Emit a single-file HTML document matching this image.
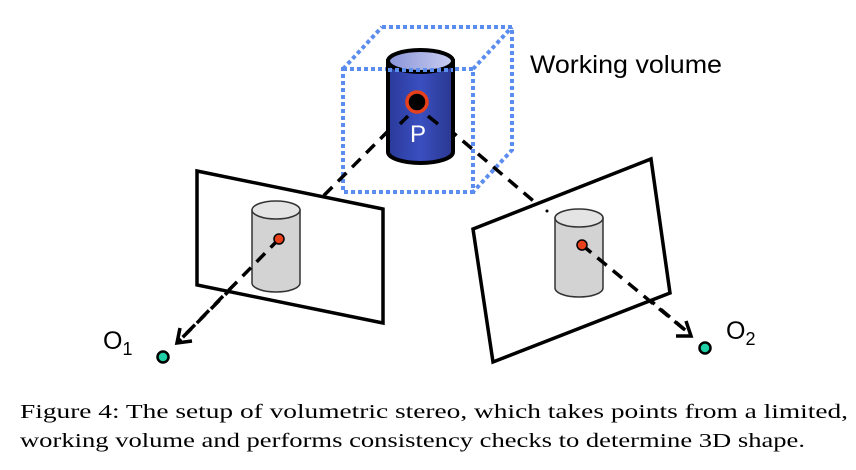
<!DOCTYPE html>
<html><head><style>html,body{margin:0;padding:0;background:#fff}svg{display:block}</style></head>
<body>
<svg width="856" height="470" viewBox="0 0 856 470" xmlns="http://www.w3.org/2000/svg">
<defs>
<linearGradient id="bl" x1="0" x2="1" y1="0" y2="0">
<stop offset="0" stop-color="#2a3a9a"/><stop offset="0.5" stop-color="#3a4fc0"/><stop offset="1" stop-color="#2a3790"/>
</linearGradient>
<linearGradient id="bt" x1="0" x2="1"><stop offset="0" stop-color="#8a94d8"/><stop offset="1" stop-color="#c8cdf0"/></linearGradient>
</defs>
<g stroke="#5b8def" stroke-width="4" stroke-dasharray="4 3" fill="none">
<path d="M382,27 L512,27 L512,150 L473,192"/>
<path d="M343,69 L382,27"/>
<path d="M473,69 L512,27"/>
<rect x="343" y="69" width="130" height="123"/>
</g>
<!-- full rays (occluded later) -->
<g stroke="#000" stroke-width="3.5" stroke-dasharray="12 8" fill="none">
<path d="M417,102 L178,342"/>
<path d="M417,102 L691,335"/>
</g>
<!-- cylinder P -->
<path d="M388,61 L388,152 A32.5,11 0 0 0 453,152 L453,61 Z" fill="url(#bl)" stroke="#000" stroke-width="4"/>
<ellipse cx="420.5" cy="61" rx="32.5" ry="11" fill="url(#bt)" stroke="#000" stroke-width="4"/>
<path d="M388,70 L453,70" stroke="#5b8def" stroke-width="4" stroke-dasharray="4 3"/>
<circle cx="417" cy="102" r="10" fill="#000" stroke="#e8401a" stroke-width="3.5"/>
<path d="M408,116 L400,124 M428,116 L438,124" stroke="#000" stroke-width="3.5"/>
<text x="418" y="142" font-family="Liberation Sans, sans-serif" font-size="24" fill="#fff" text-anchor="middle">P</text>
<!-- planes -->
<polygon points="197,171 383,209 383,323 197,285" fill="#fff" stroke="#000" stroke-width="3.5"/>
<polygon points="473,229 651,159 670,293 493,362" fill="#fff" stroke="#000" stroke-width="3.5"/>
<circle cx="547" cy="211" r="1.5" fill="#000"/>
<!-- small cylinders -->
<path d="M252,210 L252,283 A24,9 0 0 0 300,283 L300,210 Z" fill="#d3d3d3" stroke="#333" stroke-width="1.5"/>
<ellipse cx="276" cy="210" rx="24" ry="9" fill="#e4e4e4" stroke="#333" stroke-width="1.5"/>
<path d="M555,218 L555,288 A24,9 0 0 0 603,288 L603,218 Z" fill="#d3d3d3" stroke="#333" stroke-width="1.5"/>
<ellipse cx="579" cy="218" rx="24" ry="9" fill="#e4e4e4" stroke="#333" stroke-width="1.5"/>
<!-- ray segments from image points -->
<g stroke="#000" stroke-width="3.5" stroke-dasharray="12 8" fill="none">
<path d="M279,239 L178,342"/>
<path d="M582,245 L691,335"/>
</g>
<g stroke="#000" stroke-width="3.5" fill="none">
<path d="M180,328 L177,343 L192,341"/>
<path d="M676,336 L691,336 L686,321"/>
</g>
<circle cx="279" cy="239" r="5" fill="#e8401a" stroke="#000" stroke-width="1.5"/>
<circle cx="582" cy="245" r="5" fill="#e8401a" stroke="#000" stroke-width="1.5"/>
<circle cx="163" cy="357" r="5.5" fill="#1fcfa5" stroke="#000" stroke-width="2.5"/>
<circle cx="705" cy="348" r="5.5" fill="#1fcfa5" stroke="#000" stroke-width="2.5"/>
<g font-family="Liberation Sans, sans-serif" fill="#000">
<text x="530" y="73" font-size="25" textLength="192" lengthAdjust="spacingAndGlyphs">Working volume</text>
<text x="103" y="349" font-size="25">O<tspan font-size="18" dy="6">1</tspan></text>
<text x="726" y="339" font-size="25">O<tspan font-size="18" dy="6">2</tspan></text>
</g>
<g font-family="Liberation Serif, serif" font-size="20" fill="#000">
<text x="20" y="418" textLength="828" lengthAdjust="spacingAndGlyphs">Figure 4: The setup of volumetric stereo, which takes points from a limited,</text>
<text x="20" y="447" textLength="785" lengthAdjust="spacingAndGlyphs">working volume and performs consistency checks to determine 3D shape.</text>
</g>
</svg>
</body></html>
